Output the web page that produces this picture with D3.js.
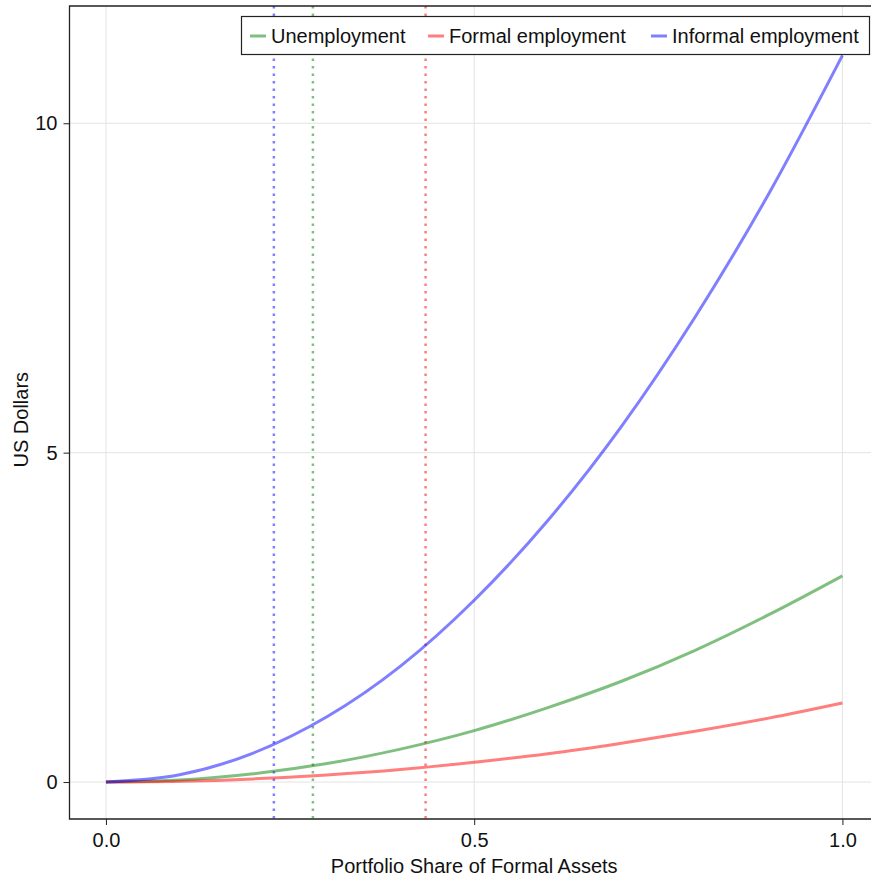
<!DOCTYPE html>
<html lang="en">
<head>
  <meta charset="UTF-8">
  <title>Portfolio share chart</title>
  <script src="https://d3js.org/d3.v7.min.js"></script>
  <style>
    body { margin: 0; background: #fff; }
    svg text { font-family: "Liberation Sans", Arial, sans-serif; fill: #111; }
    .tick line { stroke: #222; }
    .tick text { font-size: 20px; }
  </style>
</head>
<body>
<script>
// data
var shares = [0, 0.1, 0.2, 0.3, 0.4, 0.5, 0.6, 0.7, 0.8, 0.9, 1.0];
var unemployment = [0, 0.03, 0.125, 0.28, 0.5, 0.78, 1.13, 1.53, 2.0, 2.54, 3.13];
var formal = [0, 0.012, 0.048, 0.108, 0.19, 0.3, 0.43, 0.59, 0.77, 0.97, 1.2];
var informal = [0, 0.11, 0.44, 0.99, 1.76, 2.76, 3.97, 5.4, 7.06, 8.93, 11.03];
var seriesNames = ["Unemployment", "Formal employment", "Informal employment"];
var seriesColors = ["#008000", "#ff0000", "#0000ff"];
var optimalShares = [0.281, 0.434, 0.228];
var xTicks = [0, 0.5, 1.0];
var yTicks = [0, 5, 10];

var w = 871, h = 881;
var pLeft = 69.5, pTop = 6, pRight = 873, pBottom = 819;

var svg = d3.select("body").append("svg").attr("width", w).attr("height", h);

var x = d3.scaleLinear().domain([-0.0495, 1.0415]).range([pLeft, pRight]);
var y = d3.scaleLinear().domain([-0.561, 11.78]).range([pBottom, pTop]);

// grid
svg.append("g").selectAll("line").data(xTicks).enter().append("line")
  .attr("x1", d => x(d)).attr("x2", d => x(d)).attr("y1", pTop).attr("y2", pBottom)
  .attr("stroke", "#e3e3e3").attr("stroke-width", 1);
svg.append("g").selectAll("line").data(yTicks).enter().append("line")
  .attr("y1", d => y(d)).attr("y2", d => y(d)).attr("x1", pLeft).attr("x2", pRight)
  .attr("stroke", "#e3e3e3").attr("stroke-width", 1);

var allSeries = [unemployment, formal, informal];

// dotted verticals at the optimal shares
svg.append("g").selectAll("line").data(optimalShares).enter().append("line")
  .attr("x1", d => x(d)).attr("x2", d => x(d)).attr("y1", pTop).attr("y2", pBottom)
  .attr("stroke", (d, i) => seriesColors[i]).attr("stroke-opacity", 0.5)
  .attr("stroke-width", 2.5).attr("stroke-dasharray", "2.5,5");

var line = d3.line().x((d, i) => x(shares[i])).y(d => y(d)).curve(d3.curveMonotoneX);
svg.append("g").selectAll("path").data(allSeries).enter().append("path")
  .attr("d", line).attr("fill", "none")
  .attr("stroke", (d, i) => seriesColors[i]).attr("stroke-opacity", 0.5)
  .attr("stroke-width", 3);

// frame
svg.append("path")
  .attr("d", "M" + pRight + "," + pTop + "H" + pLeft + "V" + pBottom + "H" + pRight)
  .attr("fill", "none").attr("stroke", "#222").attr("stroke-width", 1.3);

// axes
var xAxis = d3.axisBottom(x).tickValues(xTicks).tickFormat(d3.format(".1f")).tickSize(6).tickPadding(8);
svg.append("g").attr("transform", "translate(0," + pBottom + ")").call(xAxis)
  .call(g => g.select(".domain").remove());
var yAxis = d3.axisLeft(y).tickValues(yTicks).tickFormat(d3.format("d")).tickSize(6).tickPadding(6);
svg.append("g").attr("transform", "translate(" + pLeft + ",0)").call(yAxis)
  .call(g => g.select(".domain").remove());

svg.append("text").attr("x", x(0.5)).attr("y", 873).attr("text-anchor", "middle")
  .attr("font-size", "20px").text("Portfolio Share of Formal Assets");
svg.append("text").attr("transform", "translate(28," + y(5.5) + ") rotate(-90)")
  .attr("text-anchor", "middle").attr("font-size", "20px").text("US Dollars");

// legend
var leg = svg.append("g");
leg.append("rect").attr("x", 241.5).attr("y", 16.5).attr("width", 628).attr("height", 38)
  .attr("fill", "#fff").attr("stroke", "#222").attr("stroke-width", 1.2);
var legX = [250, 428, 651];
seriesNames.forEach(function (name, i) {
  leg.append("line").attr("x1", legX[i]).attr("x2", legX[i] + 16).attr("y1", 36).attr("y2", 36)
    .attr("stroke", seriesColors[i]).attr("stroke-opacity", 0.5).attr("stroke-width", 3);
  leg.append("text").attr("x", legX[i] + 21).attr("y", 43).attr("font-size", "20px").text(name);
});
</script>
</body>
</html>
